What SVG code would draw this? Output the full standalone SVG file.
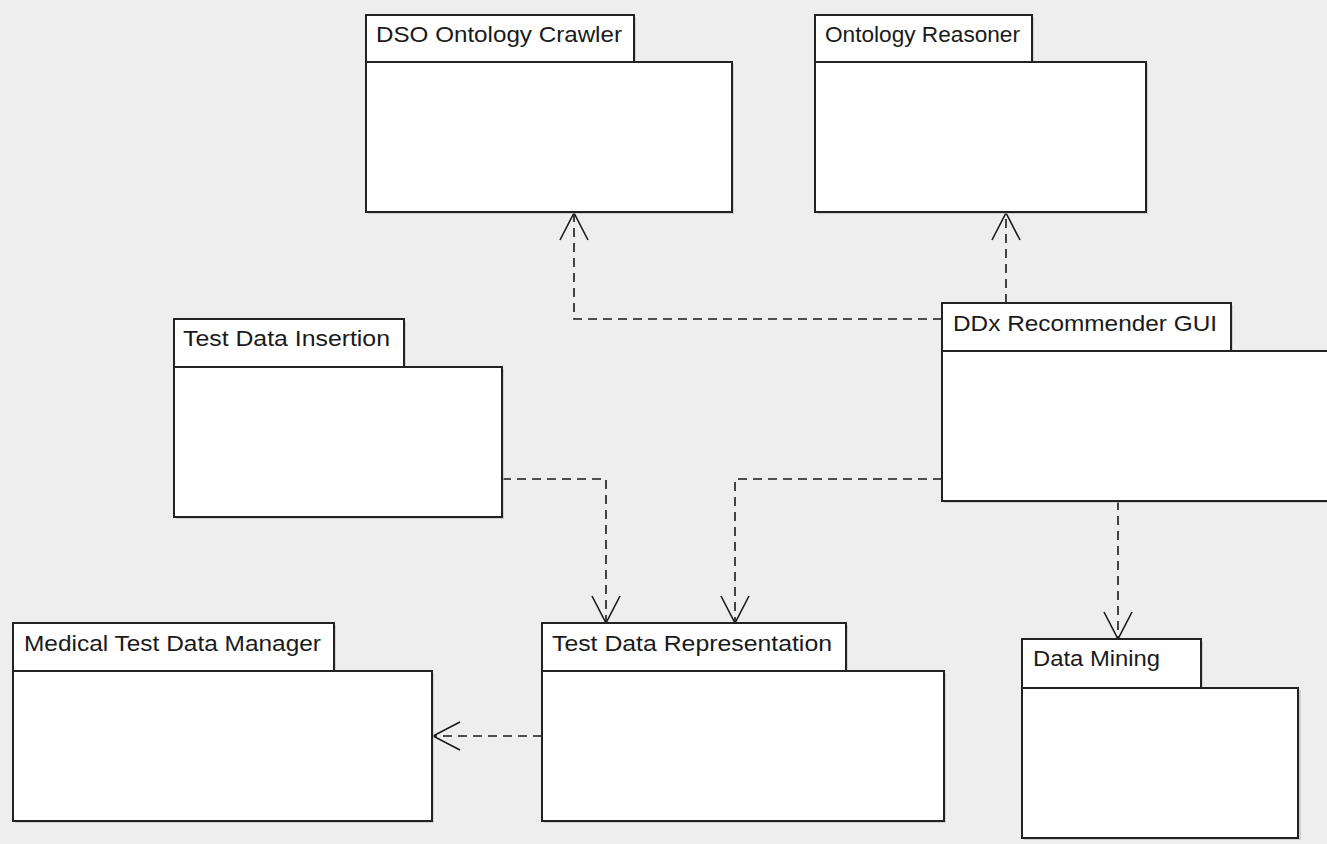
<svg xmlns="http://www.w3.org/2000/svg" width="1327" height="844" viewBox="0 0 1327 844">
  <style>
    .bg { fill: #eeeeee; }
    .shadow { fill: #bdbdbd; opacity: 0.6; }
    .box { fill: #ffffff; stroke: #222222; stroke-width: 2; }
    .label { font-family: "Liberation Sans", Arial, sans-serif; font-size: 22px; fill: #1a1a1a; }
    .dep { fill: none; stroke: #1a1a1a; stroke-width: 1.6; stroke-dasharray: 9 6; }
    .head { fill: none; stroke: #1a1a1a; stroke-width: 1.6; }
  </style>
  <defs>
    <!-- open arrowhead for dependency lines -->
    <marker id="open-arrow" viewBox="-30 -16 32 32" refX="0" refY="0" markerWidth="32" markerHeight="32" markerUnits="userSpaceOnUse" orient="auto">
      <path d="M -27 -14 L 0 0 L -27 14" class="head"/>
    </marker>
  </defs>

  <rect class="bg" x="0" y="0" width="1327" height="844"/>

  <!-- dependency connectors -->
  <g id="connectors">
    <path class="dep" d="M 942 319 L 574 319 L 574 213" marker-end="url(#open-arrow)"/>
    <path class="dep" d="M 1006 303 L 1006 213" marker-end="url(#open-arrow)"/>
    <path class="dep" d="M 502 479 L 606 479 L 606 623" marker-end="url(#open-arrow)"/>
    <path class="dep" d="M 942 479 L 735 479 L 735 623" marker-end="url(#open-arrow)"/>
    <path class="dep" d="M 1118 501 L 1118 639" marker-end="url(#open-arrow)"/>
    <path class="dep" d="M 542 736 L 433 736" marker-end="url(#open-arrow)"/>
  </g>

  <g id="dso-ontology-crawler">
    <rect class="shadow" x="368" y="17" width="268" height="47"/>
    <rect class="shadow" x="368" y="64" width="366" height="150"/>
    <rect class="box" x="366" y="15" width="268" height="47"/>
    <rect class="box" x="366" y="62" width="366" height="150"/>
    <text class="label" x="376" y="42" textLength="246" lengthAdjust="spacingAndGlyphs">DSO Ontology Crawler</text>
  </g>

  <g id="ontology-reasoner">
    <rect class="shadow" x="817" y="17" width="217" height="47"/>
    <rect class="shadow" x="817" y="64" width="331" height="150"/>
    <rect class="box" x="815" y="15" width="217" height="47"/>
    <rect class="box" x="815" y="62" width="331" height="150"/>
    <text class="label" x="825" y="42" textLength="195" lengthAdjust="spacingAndGlyphs">Ontology Reasoner</text>
  </g>

  <g id="ddx-recommender-gui">
    <rect class="shadow" x="944" y="305" width="289" height="48"/>
    <rect class="shadow" x="944" y="353" width="400" height="150"/>
    <rect class="box" x="942" y="303" width="289" height="48"/>
    <rect class="box" x="942" y="351" width="400" height="150"/>
    <text class="label" x="953" y="331" textLength="264" lengthAdjust="spacingAndGlyphs">DDx Recommender GUI</text>
  </g>

  <g id="test-data-insertion">
    <rect class="shadow" x="176" y="321" width="230" height="48"/>
    <rect class="shadow" x="176" y="369" width="328" height="150"/>
    <rect class="box" x="174" y="319" width="230" height="48"/>
    <rect class="box" x="174" y="367" width="328" height="150"/>
    <text class="label" x="183" y="346" textLength="207" lengthAdjust="spacingAndGlyphs">Test Data Insertion</text>
  </g>

  <g id="medical-test-data-manager">
    <rect class="shadow" x="15" y="625" width="321" height="48"/>
    <rect class="shadow" x="15" y="673" width="419" height="150"/>
    <rect class="box" x="13" y="623" width="321" height="48"/>
    <rect class="box" x="13" y="671" width="419" height="150"/>
    <text class="label" x="24" y="651" textLength="297" lengthAdjust="spacingAndGlyphs">Medical Test Data Manager</text>
  </g>

  <g id="test-data-representation">
    <rect class="shadow" x="544" y="625" width="304" height="48"/>
    <rect class="shadow" x="544" y="673" width="402" height="150"/>
    <rect class="box" x="542" y="623" width="304" height="48"/>
    <rect class="box" x="542" y="671" width="402" height="150"/>
    <text class="label" x="552" y="651" textLength="280" lengthAdjust="spacingAndGlyphs">Test Data Representation</text>
  </g>

  <g id="data-mining">
    <rect class="shadow" x="1024" y="641" width="179" height="49"/>
    <rect class="shadow" x="1024" y="690" width="277" height="150"/>
    <rect class="box" x="1022" y="639" width="179" height="49"/>
    <rect class="box" x="1022" y="688" width="276" height="150"/>
    <text class="label" x="1033" y="666" textLength="127" lengthAdjust="spacingAndGlyphs">Data Mining</text>
  </g>
</svg>
